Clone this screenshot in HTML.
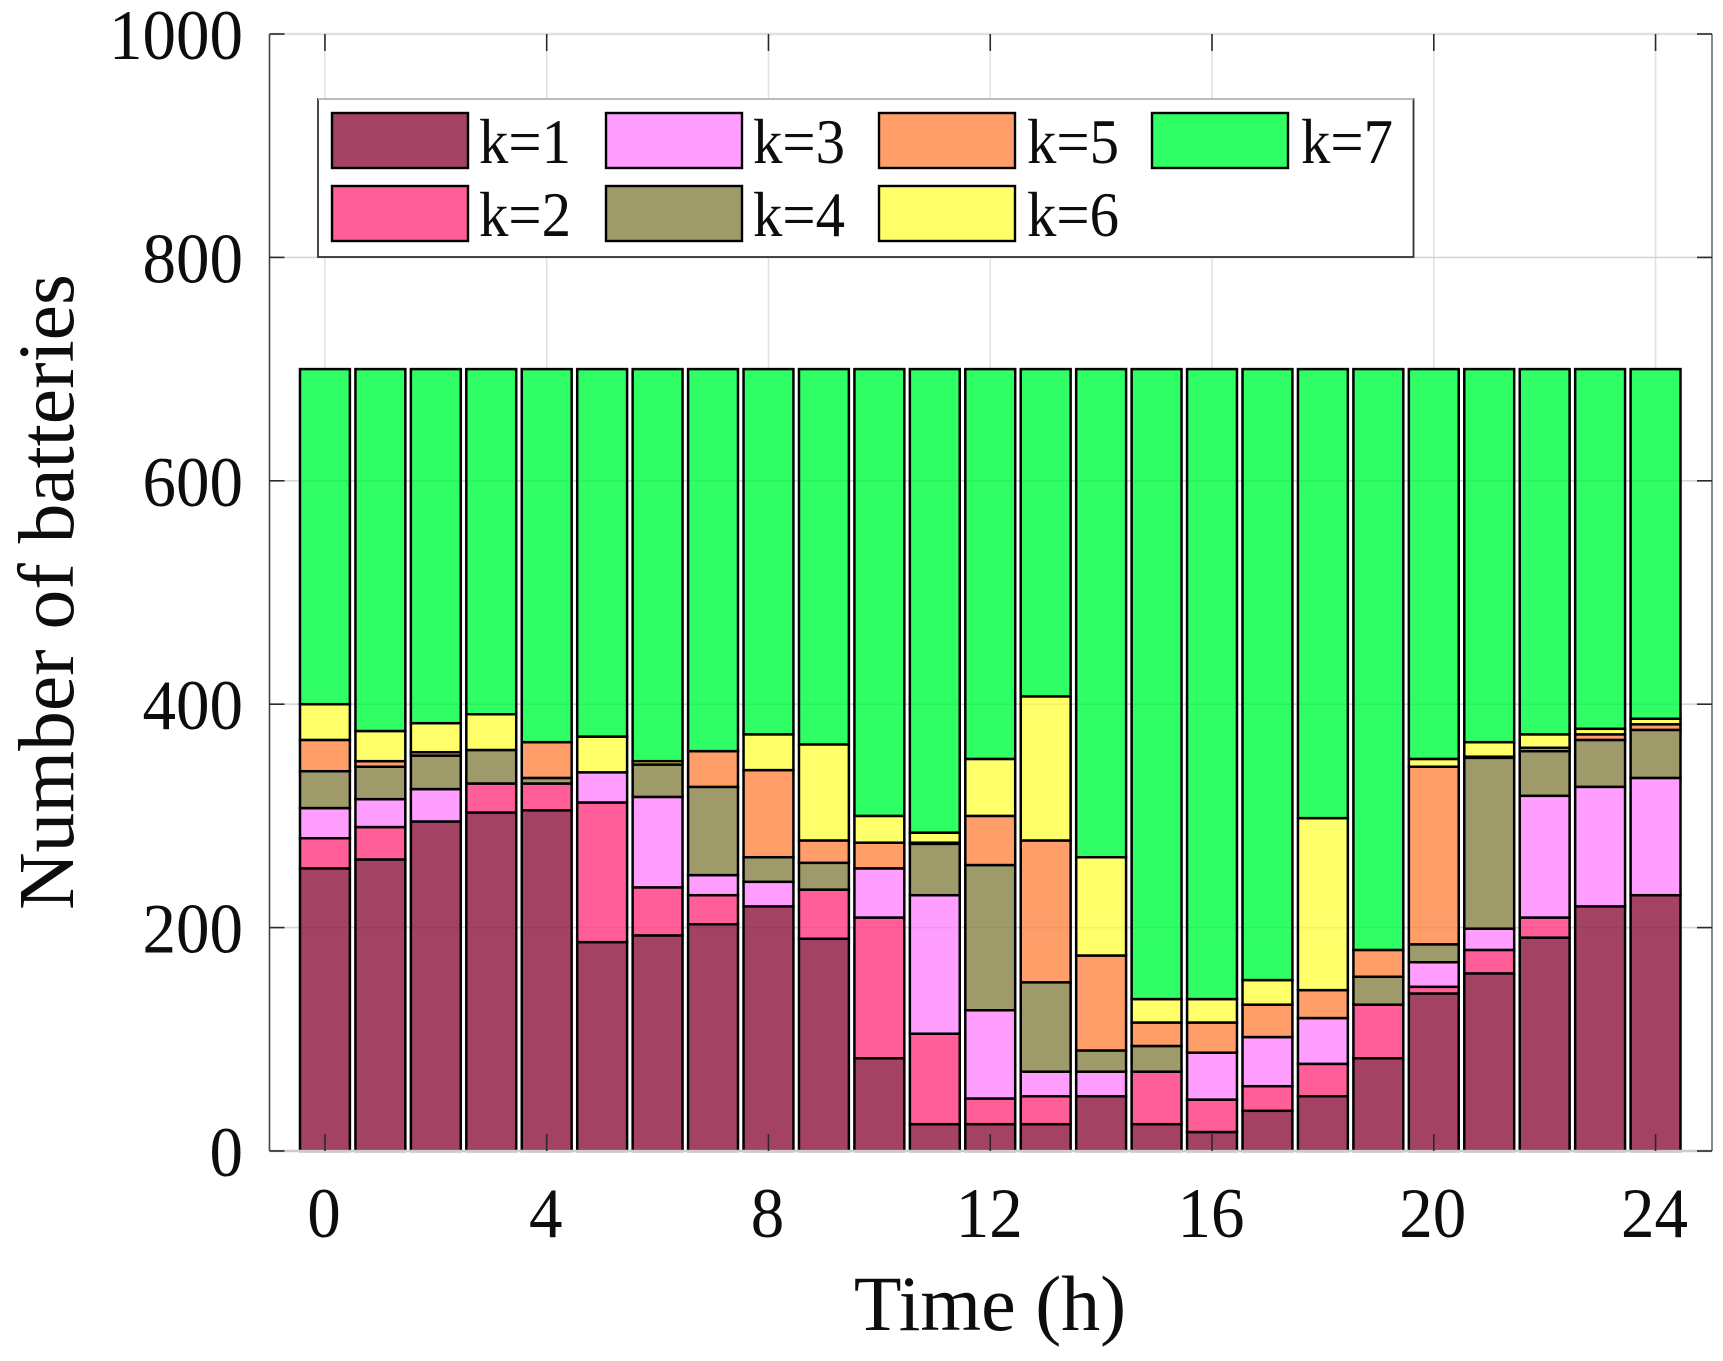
<!DOCTYPE html>
<html lang="en">
<head>
<meta charset="utf-8">
<title>Number of batteries by state over time</title>
<style>
html,body{margin:0;padding:0;background:#fff;}
#chart{display:block;position:absolute;left:0;top:0;}
text{font-family:"Liberation Serif",serif;fill:#0d0d0d;}
</style>
</head>
<body>
<svg id="chart" xmlns="http://www.w3.org/2000/svg" width="1723" height="1361" viewBox="0 0 1723 1361">
<rect x="0" y="0" width="1723" height="1361" fill="#ffffff"/>
<g id="grid"></g>
<g id="bars"></g>
<g id="overlay"></g>
<g id="axes"></g>
<g id="legend"></g>
<text x="990" y="1330" font-size="78" text-anchor="middle">Time (h)</text>
<text transform="translate(73,592) rotate(-90)" font-size="79.5" text-anchor="middle">Number of batteries</text>
</svg>
<script>
const hours = [0,1,2,3,4,5,6,7,8,9,10,11,12,13,14,15,16,17,18,19,20,21,22,23,24];
const k1 = [253,261,295,303,305,187,193,203,219,190,83,24,24,24,49,24,17,36,49,83,141,159,191,219,229];
const k2 = [27,29,0,26,24,125,43,26,0,44,126,81,23,25,0,47,29,22,29,48,6,21,18,0,0];
const k3 = [27,25,29,0,0,27,81,18,22,0,44,124,79,22,22,0,42,44,41,0,22,19,109,107,105];
const k4 = [33,29,30,30,5,0,29,79,22,24,0,46,130,80,19,23,0,0,0,25,16,153,40,42,43];
const k5 = [28,5,3,0,32,0,0,32,78,20,23,1,44,127,85,21,27,29,25,24,159,1,3,5,5];
const k6 = [32,27,26,32,0,32,3,0,32,86,24,9,51,129,88,21,21,22,154,0,7,13,12,5,5];
const k7 = [300,324,317,309,334,329,351,342,327,336,400,415,349,293,437,564,564,547,402,520,349,334,327,322,313];
const seriesNames = ["k=1","k=2","k=3","k=4","k=5","k=6","k=7"];
const seriesColors = ["#A34262","#FF5E99","#FF9EFF","#9E9A69","#FF9E69","#FFFF69","#2FFF65"];
const xTicks = [0,4,8,12,16,20,24];
const yTicks = [0,200,400,600,800,1000];

const SVGNS = "http://www.w3.org/2000/svg";
const plot = {left:269.5, right:1711, top:34, bottom:1151};
const xMin = -1, xMax = 25, yMin = 0, yMax = 1000;
function xScale(v){ return plot.left + (v - xMin) / (xMax - xMin) * (plot.right - plot.left); }
function yScale(v){ return plot.bottom - (v - yMin) / (yMax - yMin) * (plot.bottom - plot.top); }
function make(tag, parent, attrs){
  const el = document.createElementNS(SVGNS, tag);
  for (const key in attrs) el.setAttribute(key, attrs[key]);
  parent.appendChild(el);
  return el;
}
const grid = document.getElementById("grid");
const bars = document.getElementById("bars");
const overlay = document.getElementById("overlay");
const axes = document.getElementById("axes");
const legend = document.getElementById("legend");
const allSeries = [k1,k2,k3,k4,k5,k6,k7];

xTicks.forEach(function(t){
  const line = make("line", grid, {x1:xScale(t), x2:xScale(t), y1:plot.top, y2:plot.bottom, stroke:"#e2e2e2", "stroke-width":1.6});
  
  
});
yTicks.forEach(function(t){
  const line = make("line", grid, {x1:plot.left, x2:plot.right, y1:yScale(t), y2:yScale(t), stroke:"#e2e2e2", "stroke-width":1.6});
  
  
  const over = make("line", overlay, {x1:plot.left, x2:plot.right, y1:yScale(t), y2:yScale(t), stroke:"#000", "stroke-opacity":0.05, "stroke-width":1.6});
  
  
});

const barWidth = 0.9;
hours.forEach(function(h, i){
  let base = 0;
  allSeries.forEach(function(series, s){
    const value = series[i];
    if (value > 0) {
      const x0 = xScale(h - barWidth / 2);
      const x1 = xScale(h + barWidth / 2);
      const y0 = yScale(base + value);
      const y1 = yScale(base);
      const seg = make("rect", bars, {x:x0, y:y0, width:x1 - x0, height:y1 - y0, fill:seriesColors[s], stroke:"#000", "stroke-width":2.5});
      
      
    }
    base += value;
  });
});

/* Axis frame */
const frameTop = make("line", axes, {x1:plot.left, x2:1712, y1:plot.top, y2:plot.top, stroke:"#e0e0e0", "stroke-width":2.4});


const frameBottom = make("line", axes, {x1:plot.left, x2:1712, y1:plot.bottom, y2:plot.bottom, stroke:"#cccccc", "stroke-width":2.6});


const frameLeft = make("line", axes, {x1:plot.left, x2:plot.left, y1:plot.top, y2:plot.bottom, stroke:"#444", "stroke-width":1.6});


const frameRight = make("line", axes, {x1:1712, x2:1712, y1:plot.top, y2:plot.bottom, stroke:"#888", "stroke-width":2});



xTicks.forEach(function(t){
  const x = xScale(t);
  const tickB = make("line", axes, {x1:x, x2:x, y1:plot.bottom - 17, y2:plot.bottom, stroke:"#2a2a2a", "stroke-width":1.6});
  
  
  const tickT = make("line", axes, {x1:x, x2:x, y1:plot.top, y2:plot.top + 17, stroke:"#2a2a2a", "stroke-width":1.6});
  
  
  const text = String(t);
  const label = make("text", axes, {x:x - 1, y:1237, "font-size":71, "text-anchor":"middle", textLength:text.length * 33.5, lengthAdjust:"spacingAndGlyphs"});
  label.textContent = text;
  
  
});
yTicks.forEach(function(t){
  const y = yScale(t);
  const tickL = make("line", axes, {x1:plot.left, x2:plot.left + 15, y1:y, y2:y, stroke:"#2a2a2a", "stroke-width":1.6});
  
  
  const tickR = make("line", axes, {x1:1697, x2:1712, y1:y, y2:y, stroke:"#2a2a2a", "stroke-width":1.6});
  
  
  const text = String(t);
  const label = make("text", axes, {x:243, y:y + 25, "font-size":71, "text-anchor":"end", textLength:text.length * 33.5, lengthAdjust:"spacingAndGlyphs"});
  label.textContent = text;
  
  
});

/* Legend */
const legendBox = make("rect", legend, {x:318, y:99, width:1095.5, height:158, fill:"#fff", stroke:"#333", "stroke-width":1.8});


const legendTop = make("line", legend, {x1:318, x2:1413.5, y1:99, y2:99, stroke:"#bbb", "stroke-width":2});


const legendLayout = {cols:[332,606,879,1152], textCols:[479,753,1027,1301], rows:[113,186], baselines:[163,236], swatchW:136, swatchH:55};
seriesNames.forEach(function(name, i){
  const col = Math.floor(i / 2);
  const row = i % 2;
  const swatch = make("rect", legend, {x:legendLayout.cols[col], y:legendLayout.rows[row], width:legendLayout.swatchW, height:legendLayout.swatchH, fill:seriesColors[i], stroke:"#000", "stroke-width":2.4});
  
  
  const label = make("text", legend, {x:legendLayout.textCols[col], y:legendLayout.baselines[row], "font-size":64, textLength:92, lengthAdjust:"spacingAndGlyphs"});
  label.textContent = name;
  
  
});
</script>
</body>
</html>
